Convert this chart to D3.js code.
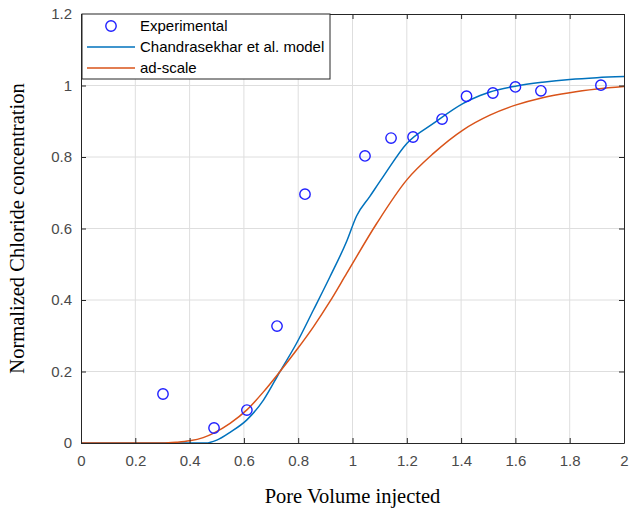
<!DOCTYPE html>
<meta charset="utf-8">
<title>chloride breakthrough</title>
<head>
<script src="https://cdn.jsdelivr.net/npm/d3@7"></script>
<style>
body { margin: 0; background: #fff; }
.grid line { stroke: #dedede; stroke-width: 1; }
.axis text { font-family: "Liberation Sans", Arial, sans-serif; font-size: 15px; fill: #4a4a4a; }
.axis path, .axis line { stroke: #262626; }
.title { font-family: "Liberation Serif", "Times New Roman", serif; font-size: 20.5px; fill: #000; }
.legend text { font-family: "Liberation Sans", Arial, sans-serif; font-size: 15px; fill: #000; }
</style>
</head>
<body>
<div id="chart"></div>
<script>
// experimental points
var expX = [0.302, 0.49, 0.611, 0.722, 0.825, 1.046, 1.142, 1.223, 1.33, 1.42, 1.517, 1.6, 1.694, 1.915];
var expY = [0.137, 0.042, 0.092, 0.327, 0.696, 0.803, 0.853, 0.856, 0.906, 0.97, 0.979, 0.996, 0.985, 1.001];

// Chandrasekhar et al. model
var chX = [0, 0.30, 0.46, 0.50, 0.549, 0.61, 0.672, 0.733, 0.794, 0.856, 0.917, 0.979, 1.015, 1.064, 1.113, 1.2, 1.298, 1.408, 1.47, 1.506, 1.6, 1.7, 1.8, 1.9, 2.0];
var chY = [0, 0, 0, 0.008, 0.03, 0.064, 0.12, 0.2, 0.279, 0.372, 0.465, 0.565, 0.635, 0.69, 0.745, 0.838, 0.894, 0.95, 0.972, 0.982, 0.998, 1.009, 1.017, 1.022, 1.025];

// ad-scale
var adX = [0, 0.30, 0.35, 0.40, 0.45, 0.487, 0.549, 0.61, 0.672, 0.733, 0.794, 0.856, 0.917, 0.979, 1.089, 1.2, 1.298, 1.408, 1.506, 1.6, 1.7, 1.8, 1.9, 2.0];
var adY = [0, 0, 0.002, 0.006, 0.015, 0.027, 0.055, 0.092, 0.143, 0.2, 0.26, 0.325, 0.396, 0.475, 0.614, 0.736, 0.81, 0.876, 0.917, 0.945, 0.966, 0.98, 0.99, 0.997];

var xTicks = [0, 0.2, 0.4, 0.6, 0.8, 1, 1.2, 1.4, 1.6, 1.8, 2];
var yTicks = [0, 0.2, 0.4, 0.6, 0.8, 1, 1.2];
var legendNames = ["Experimental", "Chandrasekhar et al. model", "ad-scale"];

var W = 629, H = 513;
var margin = {top: 14, right: 5, bottom: 70, left: 81},
    width = W - margin.left - margin.right,
    height = H - margin.top - margin.bottom;

var svg = d3.select("#chart").append("svg")
    .attr("width", W)
    .attr("height", H)
  .append("g")
    .attr("transform", "translate(" + margin.left + "," + margin.top + ")");

var x = d3.scaleLinear().domain([0, 2]).range([0, width]);
var y = d3.scaleLinear().domain([0, 1.2]).range([height, 0]);

// grid
var grid = svg.append("g").attr("class", "grid");
grid.selectAll(".gx").data(xTicks.slice(1, -1)).enter().append("line")
    .attr("x1", function(d) { return x(d); }).attr("x2", function(d) { return x(d); })
    .attr("y1", 0).attr("y2", height);
grid.selectAll(".gy").data(yTicks.slice(1, -1)).enter().append("line")
    .attr("y1", function(d) { return y(d); }).attr("y2", function(d) { return y(d); })
    .attr("x1", 0).attr("x2", width);

// curves
var line = d3.line()
    .x(function(d) { return x(d[0]); })
    .y(function(d) { return y(d[1]); })
    .curve(d3.curveMonotoneX);

svg.append("path")
    .datum(d3.zip(chX, chY))
    .attr("d", line)
    .style("fill", "none").style("stroke", "#0072BD").style("stroke-width", 1.5);

svg.append("path")
    .datum(d3.zip(adX, adY))
    .attr("d", line)
    .style("fill", "none").style("stroke", "#D95319").style("stroke-width", 1.5);

svg.append("g").selectAll("circle")
    .data(d3.zip(expX, expY))
  .enter().append("circle")
    .attr("cx", function(d) { return x(d[0]); })
    .attr("cy", function(d) { return y(d[1]); })
    .attr("r", 5.2)
    .style("fill", "none").style("stroke", "#1f1fff").style("stroke-width", 1.4);

// axes (box with inward ticks)
svg.append("g").attr("class", "axis")
    .attr("transform", "translate(0," + height + ")")
    .call(d3.axisBottom(x).tickValues(xTicks).tickSizeInner(-5).tickSizeOuter(0).tickPadding(12)
      .tickFormat(function(d) { return d; }));
svg.append("g").attr("class", "axis")
    .call(d3.axisLeft(y).tickValues(yTicks).tickSizeInner(-5).tickSizeOuter(0).tickPadding(9)
      .tickFormat(function(d) { return d; }));
svg.append("g").attr("class", "axis")
    .call(d3.axisTop(x).tickValues(xTicks).tickSizeInner(-5).tickSizeOuter(0).tickFormat(""));
svg.append("g").attr("class", "axis")
    .attr("transform", "translate(" + width + ",0)")
    .call(d3.axisRight(y).tickValues(yTicks).tickSizeInner(-5).tickSizeOuter(0).tickFormat(""));

// titles
svg.append("text").attr("class", "title")
    .attr("x", width / 2).attr("y", height + 60)
    .attr("text-anchor", "middle")
    .text("Pore Volume injected");
svg.append("text").attr("class", "title")
    .attr("transform", "translate(" + (-57) + "," + (height / 2) + ") rotate(-90)")
    .attr("text-anchor", "middle")
    .text("Normalized Chloride concentration");

// legend
var lg = svg.append("g").attr("class", "legend").attr("transform", "translate(1,0)");
lg.append("rect")
    .attr("width", 248).attr("height", 65)
    .style("fill", "#fff").style("stroke", "#262626").style("stroke-width", 1);
var rowY = [12, 33, 54];
lg.append("circle").attr("cx", 29).attr("cy", rowY[0]).attr("r", 5.2)
    .style("fill", "none").style("stroke", "#1f1fff").style("stroke-width", 1.4);
lg.append("line").attr("x1", 5).attr("x2", 53).attr("y1", rowY[1]).attr("y2", rowY[1])
    .style("stroke", "#0072BD").style("stroke-width", 1.5);
lg.append("line").attr("x1", 5).attr("x2", 53).attr("y1", rowY[2]).attr("y2", rowY[2])
    .style("stroke", "#D95319").style("stroke-width", 1.5);
lg.selectAll("text").data(legendNames).enter().append("text")
    .attr("x", 58)
    .attr("y", function(d, i) { return rowY[i]; })
    .attr("dy", "0.35em")
    .text(function(d) { return d; });
</script>
</body>
</html>
